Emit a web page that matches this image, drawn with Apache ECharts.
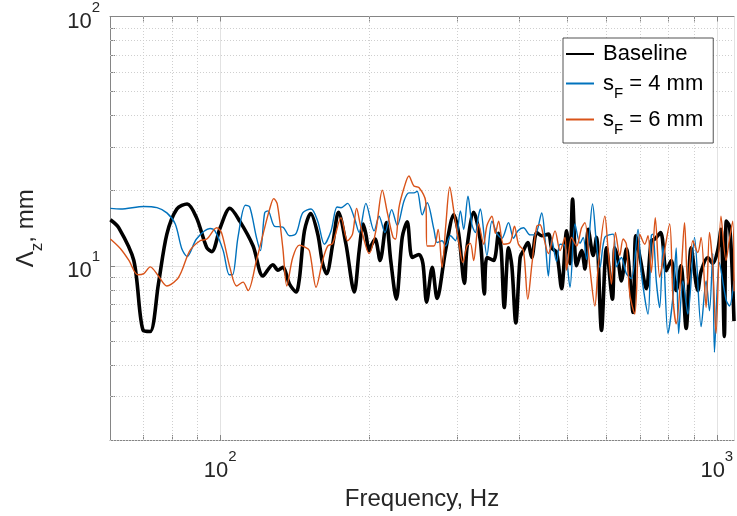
<!DOCTYPE html>
<html>
<head>
<meta charset="utf-8">
<script src="https://cdn.jsdelivr.net/npm/echarts@6/dist/echarts.min.js"></script>
<style>
  html, body { margin: 0; padding: 0; background: #ffffff; }
  #chart { width: 737px; height: 516px; }
</style>
</head>
<body>
<div id="chart"></div>
<script>
// Integral length scale Λz (mm) against frequency (Hz) for three configurations

const baselineFreq = [60.1, 62.5, 67.0, 70.0, 72.3, 75.1, 78.1, 81.8, 85.8, 89.6, 94.0, 96.2, 100, 104.6, 109.5, 116.5, 121.9, 127.7, 130.7, 133.7, 137.9, 142.2, 144.4, 147.8, 152.1, 157.2, 160.8, 163.8, 168.5, 173.1, 179.2, 186.2, 190.5, 194.1, 196.5, 199.5, 202.0, 205.1, 209.9, 216.1, 220.5, 226.3, 232.6, 238.0, 243.6, 251.3, 256.0, 260.4, 267.3, 273.4, 284.3, 295.4, 302.2, 310.3, 314.0, 323.9, 334.1, 340.4, 344.5, 355.3, 363.6, 368.1, 373.3, 380.7, 386.6, 393.8, 401.8, 408.0, 416.3, 424.0, 433.9, 444.0, 458.0, 465.1, 475.8, 487.0, 498.4, 506.3, 512.4, 522.0, 534.2, 542.6, 550.9, 563.8, 572.5, 585.9, 599.6, 616.4, 623.3, 632.8, 642.5, 657.6, 678.3, 686.7, 701.5, 721.2, 738.1, 749.7, 770.8, 791.1, 809.6, 828.5, 846.7, 867.6, 887.9, 915.8, 929.9, 959.0, 981.4, 1004, 1019.5, 1035.5, 1045.3, 1060.3, 1071.7, 1083];
const baselineVal = [15.3, 14.2, 10.5, 5.5, 5.45, 8.45, 13.4, 16.9, 17.7, 15.6, 11.8, 11.4, 14.2, 17.0, 15.1, 12.0, 9.1, 10.1, 9.6, 9.85, 8.45, 7.85, 8.9, 13.8, 16.2, 13.4, 10.2, 9.3, 12.2, 16.4, 12.2, 7.85, 11.5, 14.7, 13.4, 11.5, 12.2, 12.8, 10.5, 14.9, 10.5, 7.35, 13.0, 15.0, 10.8, 11.1, 10.2, 7.15, 9.85, 7.4, 11.5, 16.0, 13.4, 8.5, 11.8, 16.4, 12.6, 7.7, 10.8, 10.5, 13.5, 11.5, 6.8, 11.8, 10.0, 5.9, 10.8, 11.5, 12.4, 10.8, 13.6, 13.2, 13.4, 11.8, 11.3, 8.1, 13.8, 10.2, 18.5, 10.0, 11.5, 9.7, 14.0, 11.0, 13.0, 5.5, 11.8, 7.35, 11.8, 10.5, 8.7, 11.7, 6.5, 13.2, 10.6, 8.1, 12.6, 12.8, 13.6, 9.55, 10.5, 7.95, 10.0, 5.6, 11.8, 7.95, 9.5, 10.8, 10.2, 11.5, 14.0, 5.2, 15.1, 14.4, 10.5, 6.0];

const s4Freq = [60.1, 63.0, 70.2, 74.6, 78.1, 81.2, 83.7, 85.8, 89.6, 95.4, 97.6, 101.4, 104.3, 105.9, 108.6, 112.4, 114.7, 118.3, 120.5, 122.9, 124.8, 128.7, 133.7, 137.9, 142.2, 146.6, 152.4, 157.2, 162.1, 167.2, 171.9, 175.1, 180.5, 186.2, 190.5, 196.5, 204.2, 208.9, 214.7, 221.5, 227.3, 234.5, 239.9, 245.5, 249.3, 255.2, 261.1, 269.4, 273.4, 279.8, 284.3, 290.9, 297.7, 304.6, 309.3, 315.5, 321.4, 326.4, 331.5, 334.1, 344.5, 352.6, 360.8, 369.2, 380.7, 389.6, 397.4, 408.0, 420.9, 430.7, 444.0, 451.0, 458.0, 465.1, 475.8, 483.4, 494.5, 506.3, 518.1, 530.3, 538.4, 546.6, 562.0, 572.5, 581.6, 595.1, 618.4, 627.8, 642.5, 657.6, 673.0, 694.1, 704.8, 726.9, 738.1, 743.9, 755.3, 767.3, 779.1, 797.3, 816.0, 828.5, 837.7, 854.5, 874.4, 901.9, 929.9, 951.6, 966.6, 981.4, 989.1, 1011.9, 1043.8, 1060.3, 1083];
const s4Val = [17.0, 16.9, 17.3, 17.1, 16.3, 14.7, 11.7, 10.9, 12.8, 14.1, 13.8, 11.5, 9.2, 9.2, 13.0, 17.5, 17.2, 13.0, 11.5, 16.3, 16.6, 14.4, 14.3, 13.2, 13.5, 16.3, 16.9, 15.1, 12.2, 13.8, 17.2, 17.1, 17.8, 15.6, 13.6, 17.8, 13.8, 15.8, 13.6, 16.8, 14.5, 18.2, 19.6, 19.6, 19.9, 16.0, 17.9, 14.0, 12.4, 12.6, 12.0, 13.2, 12.6, 16.6, 14.0, 19.0, 14.6, 13.6, 16.0, 16.9, 11.0, 15.1, 13.5, 12.9, 14.9, 12.9, 13.8, 14.2, 13.3, 13.3, 16.3, 12.8, 9.1, 12.8, 10.4, 12.2, 12.0, 8.2, 14.7, 12.3, 13.0, 10.6, 17.7, 12.2, 9.85, 13.0, 13.4, 9.9, 10.8, 9.3, 8.9, 14.0, 9.3, 6.4, 13.2, 13.4, 8.7, 6.8, 12.0, 5.35, 7.5, 11.8, 5.35, 8.7, 6.4, 13.0, 5.7, 8.7, 6.6, 11.2, 4.5, 10.3, 7.3, 6.9, 8.7];

const s6Freq = [60.1, 63.0, 65.5, 68.2, 70.2, 72.3, 75.1, 78.1, 81.8, 83.7, 86.9, 91.1, 94.0, 98.4, 100.6, 104.6, 107.9, 111.2, 113.8, 118.3, 122.9, 125.8, 128.2, 130.3, 133.7, 136.2, 140.0, 144.4, 147.8, 151.2, 156.0, 160.8, 164.6, 168.5, 175.1, 180.5, 184.7, 188.2, 192.0, 199.5, 205.8, 212.1, 217.1, 222.9, 225.6, 229.1, 234.5, 239.9, 245.5, 251.3, 259.2, 261.1, 269.4, 274.7, 279.8, 284.6, 289.9, 295.4, 302.2, 307.9, 314.0, 319.0, 323.9, 331.5, 339.3, 344.5, 352.6, 358.1, 363.6, 372.1, 383.7, 391.4, 398.7, 408.0, 416.3, 424.0, 433.9, 440.8, 447.5, 458.0, 472.4, 483.4, 494.7, 498.4, 510.0, 522.0, 534.2, 542.6, 555.2, 568.2, 577.0, 595.1, 604.3, 613.6, 625.0, 637.8, 647.6, 657.6, 668.0, 683.6, 699.6, 715.9, 726.9, 738.1, 751.8, 767.3, 779.1, 803.6, 816.0, 828.5, 847.9, 861.1, 874.4, 894.9, 915.8, 929.9, 951.6, 966.6, 981.4, 996.5, 1019.5, 1043.8, 1060.3, 1076.6, 1083];
const s6Val = [12.8, 11.7, 10.5, 9.2, 9.3, 9.9, 9.1, 8.3, 8.8, 9.55, 11.5, 12.6, 12.8, 14.2, 13.6, 9.85, 8.3, 8.6, 7.95, 10.5, 14.2, 16.9, 18.6, 17.7, 11.8, 8.3, 10.8, 12.1, 11.9, 11.5, 8.2, 10.5, 12.0, 12.3, 15.6, 12.6, 13.4, 17.0, 14.3, 11.2, 13.8, 20.1, 16.3, 13.0, 12.8, 17.1, 20.5, 22.9, 20.9, 20.6, 18.2, 12.0, 12.0, 14.0, 9.85, 14.5, 20.7, 16.6, 12.5, 10.3, 12.0, 12.3, 10.5, 14.7, 12.2, 14.5, 15.8, 13.5, 15.1, 12.2, 12.4, 14.4, 12.2, 11.5, 7.35, 10.0, 14.4, 14.6, 13.2, 11.2, 13.8, 11.5, 13.0, 9.6, 13.0, 12.0, 14.2, 14.9, 9.8, 6.9, 9.9, 15.8, 11.5, 8.45, 13.6, 11.0, 12.8, 12.2, 7.7, 6.4, 13.4, 12.2, 13.2, 9.4, 15.6, 9.0, 10.5, 14.7, 7.45, 5.85, 9.5, 14.9, 8.4, 12.6, 11.3, 13.0, 6.8, 13.6, 9.9, 5.35, 15.8, 10.5, 12.8, 15.1, 7.9];

const seriesNames = ['Baseline', 's_F = 4 mm', 's_F = 6 mm'];
const seriesColors = ['#000000', '#0072BD', '#D95319'];

const xLabelTicks = [100, 1000];
const yLabelTicks = [10, 100];
const xMinorTicks = [70, 80, 90, 200, 300, 400, 500, 600, 700, 800, 900];
const yMinorTicks = [2, 3, 4, 5, 6, 7, 8, 9, 20, 30, 40, 50, 60, 70, 80, 90];

const xRange = [60, 1083];
const yRange = [2, 100];

const FONT = 'Liberation Sans, Arial, Helvetica, sans-serif';
const TXT = '#262626';
const AXIS_COLOR = '#858585';

const pairs = (f, v) => f.map((x, i) => [x, v[i]]);

// "10^n" tick labels with a raised exponent
const isOneOf = (v, list) => list.some(t => Math.abs(t - v) / t < 1e-6);
const powLabel = (v, list) => {
  if (!isOneOf(v, list)) return '';
  return '{b|10}{s|' + Math.round(Math.log10(v)) + '}';
};
const powRich = {
  b: { fontFamily: FONT, fontSize: 22, color: TXT, lineHeight: 33, verticalAlign: 'bottom' },
  s: { fontFamily: FONT, fontSize: 15, color: TXT, verticalAlign: 'top' }
};

// legend entries: "Baseline", "s_F = n mm" with a lowered F
const legendRich = {
  a: { fontFamily: FONT, fontSize: 22, color: '#000', lineHeight: 25, verticalAlign: 'middle' },
  a0: { fontFamily: FONT, fontSize: 22, color: '#000', lineHeight: 25, verticalAlign: 'middle', padding: [0, 0, 0, 4] },
  sub: { fontFamily: FONT, fontSize: 15, color: '#000', lineHeight: 35, verticalAlign: 'middle', padding: [20, 0, 0, 0] }
};
const legendText = name => {
  if (name.indexOf('s_F') === 0) {
    return '{a0|s}{sub|F}{a|' + name.slice(3) + '}';
  }
  return '{a0|' + name + '}';
};

const chart = echarts.init(document.getElementById('chart'), null, { renderer: 'canvas' });

const baseX = { type: 'log', logBase: 10, min: xRange[0], max: xRange[1], gridIndex: 0 };
const baseY = { type: 'log', logBase: 10, min: yRange[0], max: yRange[1], gridIndex: 0 };

const option = {
  animation: false,
  backgroundColor: '#ffffff',
  grid: { left: 110, right: 0, top: 15, bottom: 76, containLabel: false },
  legend: {
    data: seriesNames,
    orient: 'vertical',
    left: 563,
    top: 38,
    padding: [5, 10, 6, 2],
    itemGap: 1,
    itemWidth: 28,
    itemHeight: 16,
    backgroundColor: '#ffffff',
    borderColor: '#262626',
    borderWidth: 0.8,
    borderRadius: 0,
    itemStyle: { opacity: 0, borderWidth: 0 },
    formatter: legendText,
    textStyle: { rich: legendRich },
    selectedMode: false
  },
  xAxis: [
    Object.assign({}, baseX, {
      position: 'bottom',
      name: 'Frequency, Hz',
      nameLocation: 'middle',
      nameGap: 46,
      nameTextStyle: { fontFamily: FONT, fontSize: 24, color: TXT },
      axisLine: { show: true, lineStyle: { color: AXIS_COLOR, width: 1 } },
      axisTick: { show: false },
      axisLabel: { margin: 9, formatter: v => powLabel(v, xLabelTicks), rich: powRich },
      splitLine: { show: true, lineStyle: { color: '#e2e2e2', width: 1 } }
    }),
    Object.assign({}, baseX, {
      position: 'bottom',
      axisLine: { show: false },
      axisTick: { show: true, inside: true, length: 5, customValues: xMinorTicks.concat(xLabelTicks), lineStyle: { color: AXIS_COLOR } },
      axisLabel: { show: false },
      splitLine: { show: false }
    }),
    Object.assign({}, baseX, {
      position: 'top',
      axisLine: { show: true, lineStyle: { color: AXIS_COLOR, width: 1 } },
      axisTick: { show: true, inside: true, length: 5, customValues: xMinorTicks.concat(xLabelTicks), lineStyle: { color: AXIS_COLOR } },
      axisLabel: { show: false },
      splitLine: { show: false }
    })
  ],
  yAxis: [
    Object.assign({}, baseY, {
      position: 'left',
      name: '{g|Λ}{z|z}{g|, mm}',
      nameLocation: 'middle',
      nameGap: 68,
      nameTextStyle: {
        rich: {
          g: { fontFamily: FONT, fontSize: 24, color: TXT, lineHeight: 28, verticalAlign: 'top' },
          z: { fontFamily: FONT, fontSize: 17, color: TXT, lineHeight: 17, verticalAlign: 'top', padding: [15, 0, 0, 0] }
        }
      },
      axisLine: { show: true, lineStyle: { color: AXIS_COLOR, width: 1 } },
      axisTick: { show: false },
      axisLabel: { margin: 10, formatter: v => powLabel(v, yLabelTicks), rich: powRich },
      splitLine: { show: true, lineStyle: { color: '#e2e2e2', width: 1 } }
    }),
    Object.assign({}, baseY, {
      position: 'left',
      axisLine: { show: false },
      axisTick: { show: true, inside: true, length: 5, customValues: yMinorTicks.concat(yLabelTicks), lineStyle: { color: AXIS_COLOR } },
      axisLabel: { show: false },
      splitLine: { show: false }
    })
  ],
  series: [
    {
      // dotted minor grid at 2..9 within each decade, kept beneath the curves
      name: 'minorGrid',
      type: 'line',
      data: [],
      z: 1,
      silent: true,
      markLine: {
        z: 1,
        silent: true,
        symbol: ['none', 'none'],
        label: { show: false },
        emphasis: { disabled: true },
        lineStyle: { color: '#cfcfcf', width: 1, type: [1, 2] },
        data: xMinorTicks.map(v => ({ xAxis: v })).concat(yMinorTicks.map(v => ({ yAxis: v })))
      }
    },
    {
      name: seriesNames[0], type: 'line', z: 3,
      data: pairs(baselineFreq, baselineVal),
      symbol: 'none', showSymbol: false, smooth: 0.3,
      lineStyle: { color: seriesColors[0], width: 3.6 },
      itemStyle: { color: seriesColors[0] }
    },
    {
      name: seriesNames[1], type: 'line', z: 4,
      data: pairs(s4Freq, s4Val),
      symbol: 'none', showSymbol: false, smooth: 0.3,
      lineStyle: { color: seriesColors[1], width: 1.4 },
      itemStyle: { color: seriesColors[1] }
    },
    {
      name: seriesNames[2], type: 'line', z: 5,
      data: pairs(s6Freq, s6Val),
      symbol: 'none', showSymbol: false, smooth: 0.3,
      lineStyle: { color: seriesColors[2], width: 1.4 },
      itemStyle: { color: seriesColors[2] }
    }
  ]
};

chart.setOption(option);
</script>
</body>
</html>
